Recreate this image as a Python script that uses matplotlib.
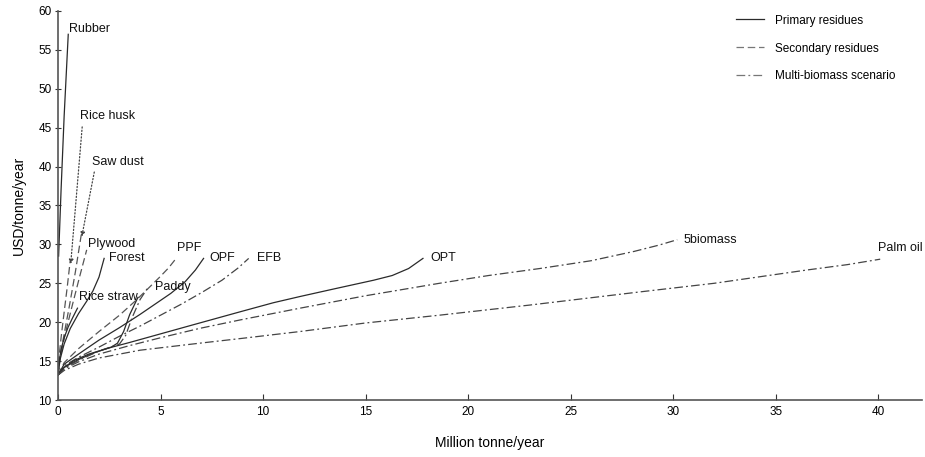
import matplotlib
matplotlib.use("Agg")
import matplotlib.pyplot as plt
from matplotlib.lines import Line2D

plt.rcParams['font.family'] = ['Liberation Sans', 'DejaVu Sans']

# ---- data (Million tonne/year, USD/tonne/year) ----
rubber_x = [0.03, 0.15, 0.3, 0.5]
rubber_y = [28.5, 37.0, 46.5, 57.0]

rice_husk_x = [0.0, 0.05, 0.15, 0.3, 0.45, 0.6]
rice_husk_y = [13.2, 15.5, 18.0, 21.3, 24.5, 28.0]

saw_dust_x = [0.0, 0.1, 0.3, 0.55, 0.85, 1.15]
saw_dust_y = [13.2, 15.5, 18.5, 22.0, 26.5, 31.5]

plywood_x = [0.0, 0.1, 0.35, 0.7, 1.05, 1.4]
plywood_y = [13.2, 15.3, 18.5, 22.2, 25.8, 29.3]

forest_x = [0.0, 0.1, 0.3, 0.6, 1.0, 1.4, 1.7, 2.0, 2.25]
forest_y = [13.2, 15.2, 17.2, 19.2, 21.1, 22.7, 24.0, 25.8, 28.2]

rice_straw_x = [0.0, 0.05, 0.15, 0.3, 0.5, 0.7, 0.95]
rice_straw_y = [13.2, 14.8, 16.5, 18.0, 19.4, 20.5, 21.8]

ppf_x = [0.0, 0.3, 1.0, 2.0, 3.0, 3.8, 4.5, 5.0, 5.4, 5.7]
ppf_y = [13.2, 14.8, 16.6, 18.8, 20.9, 22.8, 24.6, 25.9, 27.0, 28.0]

opf_x = [0.0, 0.3, 1.0, 2.0, 3.0, 4.0, 4.5, 5.5, 6.2, 6.7, 7.1]
opf_y = [13.2, 14.6, 15.9, 17.7, 19.3, 21.0, 21.9, 23.7, 25.2, 26.7, 28.2]

efb_x = [0.0, 0.3, 1.0, 2.0, 3.0, 4.0, 5.0, 6.0, 7.0, 8.0, 8.8, 9.3]
efb_y = [13.2, 14.4, 15.5, 16.8, 18.2, 19.5, 20.9, 22.3, 23.8, 25.4, 27.0, 28.2]

paddy_a_x = [0.0, 0.3, 1.0, 1.8, 2.6, 2.9, 3.2, 3.5, 3.9]
paddy_a_y = [13.2, 14.2, 15.2, 16.1, 16.8, 17.3, 18.8, 21.0, 23.2]

paddy_b_x = [0.0, 0.3, 1.0, 2.0, 3.0, 3.3, 3.6, 4.0, 4.4]
paddy_b_y = [13.2, 14.1, 15.1, 16.3, 17.2, 18.3, 20.5, 22.9, 24.5]

opt_x = [0.0, 0.3, 0.8, 1.5, 2.5, 3.5, 5.0, 6.5, 8.9, 10.5, 11.8, 13.5, 15.4, 16.3, 17.1, 17.8]
opt_y = [13.2, 14.2, 15.1, 15.9, 16.7, 17.4, 18.5, 19.6, 21.35, 22.5, 23.3, 24.3, 25.4, 26.0, 26.9, 28.2]

biomass5_x = [0.0, 0.3, 1.0, 2.0, 3.5, 5.0, 6.9, 8.9, 11.8, 15.0, 18.6, 21.0, 23.5, 26.0, 28.1, 29.3, 30.2]
biomass5_y = [13.2, 14.0, 14.9, 15.9, 17.0, 18.0, 19.2, 20.3, 21.8, 23.4, 25.0, 26.0, 26.9, 27.9, 29.1, 29.9, 30.6]

palm_oil_x = [0.0, 0.3, 1.0, 2.0, 4.0, 6.9, 8.9, 11.8, 15.0, 18.6, 23.0, 28.4, 32.0, 36.5, 38.5, 40.1]
palm_oil_y = [13.2, 13.8, 14.6, 15.4, 16.4, 17.3, 17.9, 18.8, 19.9, 20.9, 22.2, 23.9, 25.0, 26.7, 27.4, 28.1]

labels = ["Rubber", "Rice husk", "Saw dust", "Plywood", "Forest", "Rice straw",
          "PPF", "Paddy", "OPF", "EFB", "OPT", "5biomass", "Palm oil"]
label_x = [0.54, 1.07, 1.66, 1.46, 2.49, 1.02, 5.8, 4.73, 7.4, 9.7, 18.15, 30.5, 40.0]
label_y = [57.7, 46.5, 40.6, 30.05, 28.25, 23.2, 29.5, 24.5, 28.25, 28.25, 28.25, 30.6, 29.5]

legend_labels = ["Primary residues", "Secondary residues", "Multi-biomass scenario"]

# ---- figure ----
fig = plt.figure(figsize=(9.25, 4.57), dpi=100)
ax = fig.add_axes([0.0627, 0.1247, 0.9343, 0.8513])

solid = dict(color='#2a2a2a', lw=0.9, linestyle='-')
dashed = dict(color='#555555', lw=0.9, linestyle=(0, (6, 3)))
dashdot = dict(color='#444444', lw=0.9, linestyle=(0, (7, 2.5, 1.5, 2.5)))

ax.plot(rubber_x, rubber_y, **solid)
ax.plot(rice_husk_x, rice_husk_y, **dashed)
ax.plot(saw_dust_x, saw_dust_y, **dashed)
ax.plot(plywood_x, plywood_y, **dashed)
ax.plot(forest_x, forest_y, **solid)
ax.plot(rice_straw_x, rice_straw_y, **solid)
ax.plot(ppf_x, ppf_y, **dashed)
ax.plot(opf_x, opf_y, **solid)
ax.plot(efb_x, efb_y, **dashdot)
ax.plot(paddy_a_x, paddy_a_y, **solid)
ax.plot(paddy_b_x, paddy_b_y, **dashdot)
ax.plot(opt_x, opt_y, **solid)
ax.plot(biomass5_x, biomass5_y, **dashdot)
ax.plot(palm_oil_x, palm_oil_y, **dashdot)

for t, x, y in zip(labels, label_x, label_y):
    ax.text(x, y, t, fontsize=9, ha='left', va='center', color='#111111')

# dotted leader arrows
ax.annotate("", xy=(0.62, 27.5), xytext=(1.18, 45.1),
            arrowprops=dict(arrowstyle='-|>', linestyle=':', color='#444444',
                            lw=0.9, mutation_scale=6, shrinkA=0, shrinkB=0))
ax.annotate("", xy=(1.16, 31.0), xytext=(1.77, 39.3),
            arrowprops=dict(arrowstyle='-|>', linestyle=':', color='#444444',
                            lw=0.9, mutation_scale=6, shrinkA=0, shrinkB=0))

ax.set_xlim(0, 42.15)
ax.set_ylim(10, 60)
ax.set_xticks(range(0, 45, 5))
ax.set_yticks(range(10, 65, 5))
for s in ['top', 'right']:
    ax.spines[s].set_visible(False)
for s in ['left', 'bottom']:
    ax.spines[s].set_color('#555555')
    ax.spines[s].set_linewidth(1.2)
ax.tick_params(axis='x', direction='in', length=4, labelsize=8.5, pad=4, color='#333333')
ax.tick_params(axis='y', direction='inout', length=5, labelsize=8.5, pad=2, color='#333333')

ax.set_xlabel("Million tonne/year", fontsize=10, labelpad=13)
ax.set_ylabel("USD/tonne/year", fontsize=10, labelpad=9)

handles = [Line2D([], [], color='#2a2a2a', lw=0.9, linestyle='-'),
           Line2D([], [], color='#777777', lw=0.9, linestyle=(0, (6, 3))),
           Line2D([], [], color='#777777', lw=0.9, linestyle=(0, (7, 2.5, 1.5, 2.5)))]
ax.legend(handles, legend_labels, loc='upper right', bbox_to_anchor=(0.981, 1.018),
          frameon=False, fontsize=8.5, handlelength=2.4, labelspacing=1.35,
          handletextpad=0.9)

fig.savefig("out.png", dpi=100)
